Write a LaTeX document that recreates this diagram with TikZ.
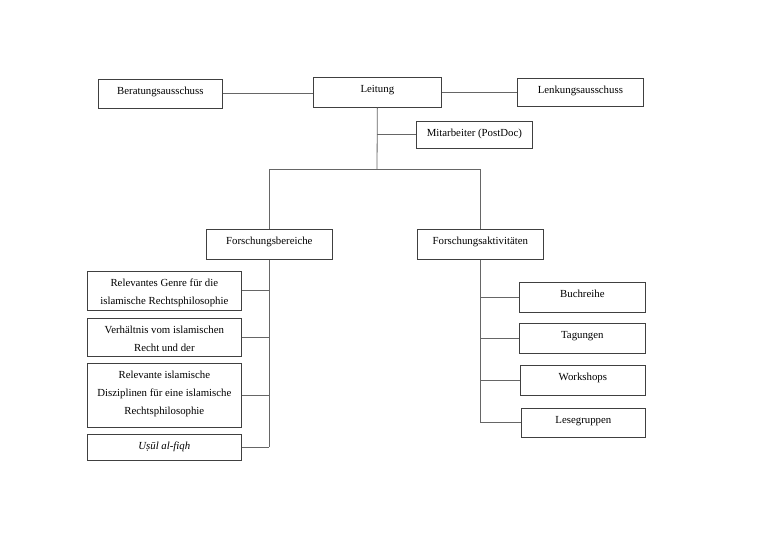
\documentclass[tikz,border=0pt]{standalone}
\usepackage{fontspec}
\setmainfont{Liberation Serif}
\newcommand\bxt[3]{\parbox[c][#2pt][t]{#1pt}{\centering\vspace*{8pt}#3\par}}
\begin{document}
\begin{tikzpicture}[x=1pt,y=-1pt,
  box/.style={draw=black!75, line width=0.7pt, inner sep=0pt, anchor=north west,
    font=\fontsize{10.8}{17.8}\selectfont},
  conn/.style={draw=black!60, line width=0.8pt}]
\useasboundingbox[fill=white] (0,0) rectangle (768,537);
\node[box] (bera) at (98,79)  {\bxt{124}{29}{Beratungsausschuss}};
\node[box] (leit) at (313,77) {\bxt{128}{30}{Leitung}};
\node[box] (lenk) at (517,78) {\bxt{126}{28}{Lenkungsausschuss}};
\node[box] (mit)  at (416,121){\bxt{116}{27}{Mitarbeiter (PostDoc)}};
\node[box] (fb)   at (206,229){\bxt{126}{30}{Forschungsbereiche}};
\node[box] (fa)   at (417,229){\bxt{126}{30}{Forschungsaktivitäten}};
\node[box] (rg)   at (87,271) {\bxt{154}{39}{Relevantes Genre für die\\islamische Rechtsphilosophie}};
\node[box] (vh)   at (87,318) {\bxt{154}{38}{Verhältnis vom islamischen\\Recht und der}};
\node[box] (ri)   at (87,363) {\bxt{154}{64}{Relevante islamische\\Disziplinen für eine islamische\\Rechtsphilosophie}};
\node[box] (uf)   at (87,434) {\bxt{154}{26}{\itshape Uṣūl al-fiqh}};
\node[box] (bu)   at (519,282){\bxt{126}{30}{Buchreihe}};
\node[box] (ta)   at (519,323){\bxt{126}{30}{Tagungen}};
\node[box] (wo)   at (520,365){\bxt{125}{30}{Workshops}};
\node[box] (le)   at (521,408){\bxt{124}{29}{Lesegruppen}};
\coordinate (t) at (377,169);
\draw[conn] (bera.east) -- (bera.east -| leit.west);
\draw[conn] (leit.east) -- (leit.east -| lenk.west);
\draw[conn] (leit.south) -- (t);
\draw[conn] (leit.south |- mit.west) -- (mit.west);
\draw[conn] (fb.north) |- (t);
\draw[conn] (t) -| (fa.north);
\draw[conn] (fb.south) -- (fb.south |- uf.east);
\foreach \n in {rg,vh,ri,uf} \draw[conn] (\n.east) -- (\n.east -| fb.south);
\draw[conn] (fa.south) -- (fa.south |- le.west);
\foreach \n in {bu,ta,wo,le} \draw[conn] (\n.west) -- (\n.west -| fa.south);
\end{tikzpicture}
\end{document}
